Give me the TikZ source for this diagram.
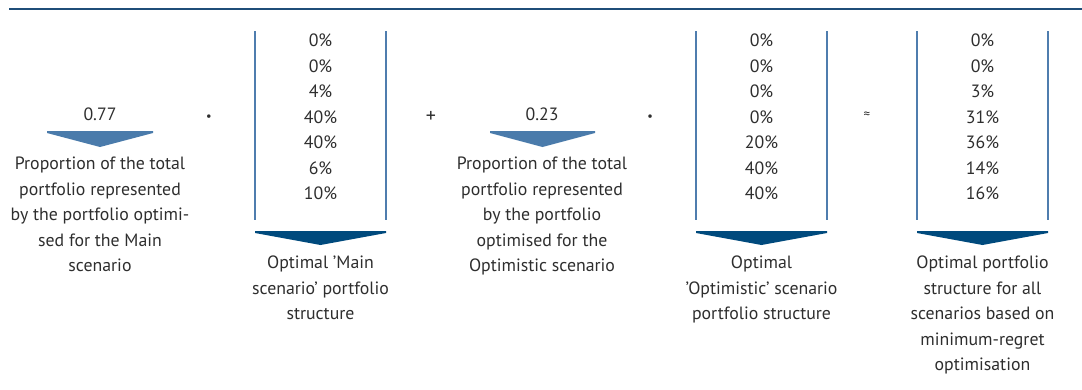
\documentclass[tikz,border=0pt]{standalone}
\usepackage{fontspec}
\setmainfont{PT Sans}
\definecolor{rulecol}{HTML}{1F4E79}
\definecolor{barcol}{HTML}{4F7DAE}
\definecolor{chevlight}{HTML}{4A7BAB}
\definecolor{chevdark}{HTML}{004A7D}
\definecolor{ink}{HTML}{2E2E2E}
\tikzset{
  txt/.style={text=ink, inner sep=0pt, align=center, font=\fontsize{17.8}{25.5}\selectfont},
  op/.style={text=ink, inner sep=0pt},
  bar/.style={draw=barcol, line width=2.2pt},
}
% chevron below a value or a column: #1 left x, #2 right x, #3 top y, #4 tip y
\newcommand\chevron[5]{%
  \fill[#5] (#1,#3) -- (#2,#3) -- (#2,#3+2) -- ({(#1+#2)/2},#4) -- (#1,#3+2) -- cycle;}
\begin{document}
\begin{tikzpicture}[x=1pt,y=-1pt]
\useasboundingbox (0,0) rectangle (1082,389);
% top rule
\draw[rulecol, line width=1.5pt] (9,9) -- (1082,9);

% weight of the Main scenario
\node[txt] (w1) at (100,114) {0.77};
\chevron{47}{153}{131}{147}{chevlight}
\node[txt, anchor=north] (w1lab) at (100,157) {Proportion of the total\\portfolio represented\\by the portfolio optimi-\\sed for the Main\\scenario};

\node[op, font=\fontsize{30}{32}\selectfont] (m1) at (209,120) {·};

% Main scenario column
\draw[bar] (255,31) -- (255,220);
\draw[bar] (386,31) -- (386,220);
\node[txt] (c1) at (320.5,117) {0\%\\0\%\\4\%\\40\%\\40\%\\6\%\\10\%};
\chevron{255}{386}{231}{245}{chevdark}
\node[txt, anchor=north] (c1lab) at (320.5,256) {Optimal ’Main\\scenario’ portfolio\\structure};

\node[op, font=\fontsize{20}{22}\selectfont] (plus) at (431,117) {+};

% weight of the Optimistic scenario
\node[txt] (w2) at (542,114) {0.23};
\chevron{490}{595}{131}{147}{chevlight}
\node[txt, anchor=north] (w2lab) at (542,157) {Proportion of the total\\portfolio represented\\by the portfolio\\optimised for the\\Optimistic scenario};

\node[op, font=\fontsize{30}{32}\selectfont] (m2) at (650,120) {·};

% Optimistic scenario column
\draw[bar] (696,31) -- (696,220);
\draw[bar] (827,31) -- (827,220);
\node[txt] (c2) at (761.5,117) {0\%\\0\%\\0\%\\0\%\\20\%\\40\%\\40\%};
\chevron{696}{827}{231}{245}{chevdark}
\node[txt, anchor=north] (c2lab) at (761.5,256) {Optimal\\’Optimistic’ scenario\\portfolio structure};

\node[op, font=\fontsize{13}{15}\selectfont] (approx) at (867,115) {≈};

% minimum-regret column
\draw[bar] (917,31) -- (917,220);
\draw[bar] (1048,31) -- (1048,220);
\node[txt] (c3) at (982.5,117) {0\%\\0\%\\3\%\\31\%\\36\%\\14\%\\16\%};
\chevron{917}{1048}{231}{245}{chevdark}
\node[txt, anchor=north] (c3lab) at (982.5,256) {Optimal portfolio\\structure for all\\scenarios based on\\minimum-regret\\optimisation};
\end{tikzpicture}
\end{document}
